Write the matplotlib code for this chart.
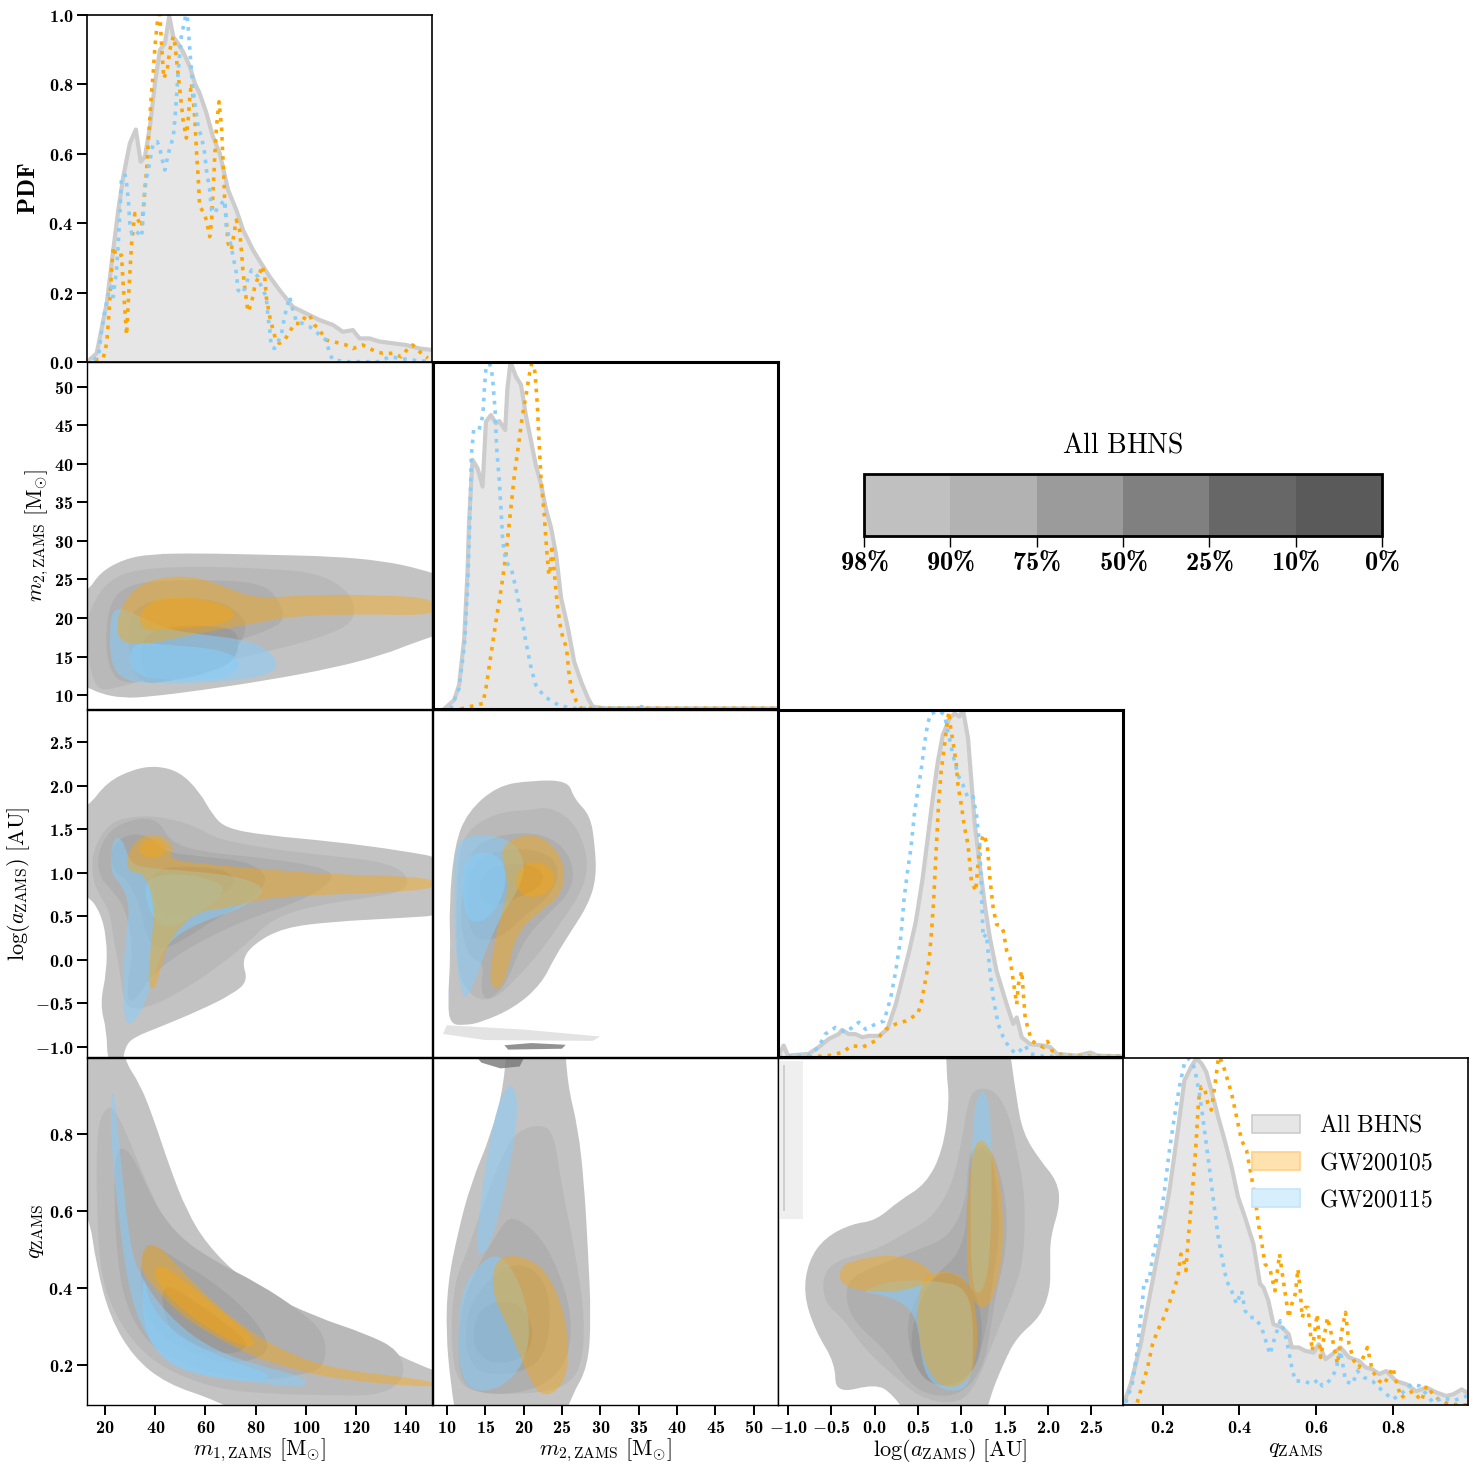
import matplotlib
matplotlib.use('Agg')
import matplotlib.pyplot as plt
from matplotlib.colors import ListedColormap, BoundaryNorm
from matplotlib.ticker import FixedLocator, FuncFormatter, NullLocator
import matplotlib.colorbar as mcolorbar
from matplotlib.patches import Patch, PathPatch, Polygon
from matplotlib.path import Path

plt.rcParams['font.family'] = ['DejaVu Serif']
plt.rcParams['mathtext.fontset'] = 'custom'
plt.rcParams['mathtext.rm'] = 'cmr10'
plt.rcParams['mathtext.it'] = 'cmmi10'
plt.rcParams['mathtext.bf'] = 'cmb10'
plt.rcParams['mathtext.sf'] = 'cmss10'
plt.rcParams['mathtext.tt'] = 'cmtt10'
plt.rcParams['mathtext.cal'] = 'cmsy10'
plt.rcParams['mathtext.fallback'] = 'cm'

# ---------------- axis ranges / ticks ----------------
m1_lim = (12.85, 150.3)
m2_lim = (8.2, 53.2)
loga_lim = (-1.115, 2.87)
q_lim = (0.097, 0.997)
pdf_ticks = [0.0, 0.2, 0.4, 0.6, 0.8, 1.0]
m1_ticks = [20, 40, 60, 80, 100, 120, 140]
m2_ticks = [10, 15, 20, 25, 30, 35, 40, 45, 50]
loga_ticks = [-1.0, -0.5, 0.0, 0.5, 1.0, 1.5, 2.0, 2.5]
q_ticks = [0.2, 0.4, 0.6, 0.8]
cbar_labels = ['98%', '90%', '75%', '50%', '25%', '10%', '0%']
legend_labels = ['All BHNS', 'GW200105', 'GW200115']

# ---------------- 1D PDFs ----------------
m1_all = [12.85, 16.7, 20.7, 23.3, 25.3, 27.3, 29.9, 32.3, 34.2, 35.9, 37.9, 39.9, 41.85, 43.85, 45.6, 47.2,
          49.1, 51.1, 53.8, 55.8, 57.7, 60.4, 63.0, 65.7, 69.0, 72.3, 75.0, 78.9, 82.2, 85.55, 89.5, 94.8,
          100.1, 105.4, 110.7, 114.7, 118.7, 121.3, 125.3, 129.3, 134.6, 139.9, 145.2, 149.8]
pdf_m1_all = [0, 0.025, 0.169, 0.323, 0.438, 0.534, 0.630, 0.670, 0.577, 0.592, 0.678, 0.803, 0.899, 0.918,
              0.997, 0.937, 0.918, 0.894, 0.851, 0.803, 0.774, 0.717, 0.649, 0.601, 0.496, 0.438, 0.380, 0.323,
              0.284, 0.246, 0.207, 0.159, 0.140, 0.121, 0.107, 0.087, 0.092, 0.068, 0.068, 0.059, 0.054, 0.049,
              0.039, 0.035]
m1_105 = [16.0, 19.3, 20.7, 21.7, 22.65, 23.3, 24.6, 26.6, 27.3, 28.6, 29.7, 30.6, 31.9, 33.2, 34.6, 35.2,
          35.9, 36.6, 37.2, 37.9, 38.5, 39.2, 39.9, 40.8, 41.6, 42.5, 43.4, 44.8, 45.8, 47.2, 47.8, 48.5, 49.8,
          51.1, 52.4, 53.1, 53.8, 54.4, 55.1, 55.8, 56.4, 57.1, 57.7, 59.1, 60.4, 61.7, 62.4, 63.0, 63.7, 64.4,
          65.4, 66.4, 66.8, 67.3, 67.7, 68.3, 69.0, 70.3, 72.3, 73.6, 74.3, 74.9, 75.6, 76.3, 76.9, 78.3, 79.6,
          81.6, 82.6, 83.6, 84.2, 85.6, 86.9, 88.2, 89.5, 91.5, 93.5, 95.5, 98.1, 100.1, 101.4, 103.4, 105.4,
          108.1, 110.7, 113.4, 116.0, 118.7, 120.6, 122.6, 125.3, 127.9, 130.6, 134.6, 137.9, 141.2, 142.5,
          145.2, 148.5]
pdf_m1_105 = [0.006, 0.010, 0.054, 0.150, 0.265, 0.332, 0.304, 0.308, 0.217, 0.078, 0.227, 0.342, 0.428, 0.409,
              0.390, 0.438, 0.496, 0.553, 0.630, 0.707, 0.774, 0.832, 0.909, 0.976, 1.03, 0.918, 0.817, 0.841,
              0.899, 0.938, 0.918, 0.870, 0.784, 0.697, 0.645, 0.697, 0.765, 0.803, 0.765, 0.697, 0.611, 0.534,
              0.448, 0.433, 0.409, 0.361, 0.400, 0.486, 0.592, 0.678, 0.750, 0.678, 0.611, 0.534, 0.457, 0.409,
              0.342, 0.323, 0.409, 0.380, 0.323, 0.265, 0.217, 0.179, 0.145, 0.169, 0.217, 0.256, 0.277, 0.246,
              0.188, 0.131, 0.092, 0.059, 0.054, 0.063, 0.087, 0.111, 0.111, 0.135, 0.135, 0.107, 0.092, 0.063,
              0.059, 0.054, 0.049, 0.039, 0.044, 0.049, 0.039, 0.030, 0.025, 0.025, 0.015, 0.044, 0.049, 0.030,
              0.011]
m1_115 = [15.4, 17.4, 18.7, 20.0, 21.3, 22.65, 23.3, 24.6, 25.3, 26.0, 26.6, 28.0, 28.6, 29.3, 29.9, 30.6,
          31.9, 33.2, 34.6, 35.2, 35.9, 37.2, 39.2, 40.8, 41.85, 42.5, 43.8, 44.8, 45.8, 47.2, 47.8, 48.5, 49.1,
          49.8, 50.5, 51.8, 52.45, 53.1, 53.8, 54.4, 55.1, 56.2, 57.1, 58.4, 59.7, 60.4, 61.7, 62.4, 63.7, 65.0,
          66.4, 67.7, 68.3, 69.7, 71.0, 72.3, 73.0, 74.9, 76.3, 78.3, 79.6, 80.9, 82.2, 84.2, 84.9, 85.6, 86.2,
          87.5, 88.9, 90.2, 91.5, 93.5, 94.8, 96.2, 98.8, 101.4, 104.1, 106.1, 108.1, 109.4, 110.7, 116.0, 129.3,
          133.2, 137.2, 141.2, 149.1]
pdf_m1_115 = [0.006, 0.015, 0.092, 0.150, 0.193, 0.217, 0.188, 0.265, 0.342, 0.438, 0.534, 0.539, 0.515, 0.467,
              0.400, 0.371, 0.380, 0.371, 0.361, 0.419, 0.505, 0.553, 0.630, 0.635, 0.616, 0.592, 0.553, 0.587,
              0.616, 0.649, 0.697, 0.765, 0.832, 0.890, 0.947, 0.981, 1.03, 0.966, 0.899, 0.841, 0.784, 0.726,
              0.678, 0.649, 0.601, 0.553, 0.496, 0.438, 0.428, 0.448, 0.457, 0.467, 0.390, 0.352, 0.304, 0.256,
              0.207, 0.198, 0.227, 0.265, 0.256, 0.246, 0.217, 0.188, 0.131, 0.092, 0.044, 0.039, 0.059, 0.078,
              0.131, 0.188, 0.150, 0.116, 0.111, 0.102, 0.087, 0.073, 0.063, 0.025, 0.006, 0.001, 0.001, 0.015,
              0.011, 0.006, 0.001]

m2_all = [9.65, 10.96, 11.6, 12.27, 12.7, 12.9, 13.14, 13.35, 14.0, 14.66, 15.1, 15.75, 16.4, 16.84, 17.6, 17.9,
          18.3, 19.0, 19.67, 20.3, 21.0, 21.6, 22.3, 22.9, 23.6, 24.25, 24.9, 25.8, 26.6, 27.5, 28.4, 29.0, 30.6,
          53.2]
pdf_m2_all = [0.0, 0.026, 0.069, 0.204, 0.396, 0.540, 0.636, 0.718, 0.694, 0.641, 0.828, 0.847, 0.823, 0.830,
              0.804, 0.924, 1.0, 0.958, 0.934, 0.847, 0.770, 0.703, 0.646, 0.578, 0.521, 0.444, 0.319, 0.232,
              0.136, 0.079, 0.031, 0.007, 0.002, 0.002]
m2_105 = [11.8, 14.7, 15.1, 15.75, 16.4, 17.1, 17.7, 18.3, 18.8, 19.4, 19.8, 20.4, 20.75, 21.2, 21.5, 21.8,
          22.0, 22.3, 22.7, 23.0, 23.3, 23.5, 23.7, 24.0, 24.4, 24.9, 25.6, 25.9, 26.2, 26.9, 27.5, 53.2]
pdf_m2_105 = [0.0, 0.016, 0.060, 0.156, 0.252, 0.348, 0.444, 0.569, 0.674, 0.770, 0.838, 0.915, 0.963, 1.01,
              0.967, 0.876, 0.780, 0.655, 0.559, 0.463, 0.386, 0.405, 0.473, 0.396, 0.300, 0.223, 0.175, 0.108,
              0.060, 0.021, 0.002, 0.002]
m2_115 = [10.5, 11.6, 12.3, 12.7, 13.0, 13.2, 13.5, 14.2, 14.7, 14.9, 15.1, 15.3, 15.8, 16.0, 16.3, 16.5,
          16.85, 17.1, 17.3, 17.7, 18.4, 19.0, 19.7, 20.3, 21.0, 21.6, 22.7, 24.5, 26.2, 35.0, 35.4, 35.8, 53.2]
pdf_m2_115 = [0.0, 0.060, 0.184, 0.348, 0.540, 0.732, 0.804, 0.804, 0.847, 0.924, 0.982, 1.01, 0.982, 0.943,
              0.857, 0.751, 0.655, 0.559, 0.482, 0.425, 0.405, 0.348, 0.271, 0.194, 0.117, 0.069, 0.036, 0.012,
              0.002, 0.002, 0.007, 0.0, 0.0]

loga_all = [-1.11, -1.05, -1.0, -0.763, -0.647, -0.53, -0.415, -0.376, -0.298, -0.221, -0.143, -0.066, 0.05,
            0.147, 0.244, 0.322, 0.4, 0.477, 0.555, 0.613, 0.671, 0.73, 0.787, 0.865, 0.923, 0.98, 1.02, 1.078,
            1.117, 1.156, 1.213, 1.271, 1.33, 1.407, 1.524, 1.6, 1.64, 1.698, 1.795, 1.95, 2.03, 2.105, 2.34,
            2.49, 2.57, 2.87]
pdf_loga_all = [0.004, 0.033, 0.004, 0.009, 0.028, 0.052, 0.066, 0.078, 0.066, 0.066, 0.057, 0.061, 0.061, 0.080,
                0.152, 0.229, 0.306, 0.392, 0.516, 0.631, 0.746, 0.852, 0.928, 0.976, 0.990, 0.981, 1.0, 0.919,
                0.794, 0.670, 0.555, 0.44, 0.344, 0.248, 0.152, 0.095, 0.114, 0.057, 0.037, 0.033, 0.028, 0.009,
                0.004, 0.013, 0.004, 0.002]
loga_105 = [-0.763, -0.53, -0.376, -0.26, -0.143, 0.012, 0.128, 0.244, 0.36, 0.497, 0.535, 0.593, 0.632, 0.651,
            0.679, 0.698, 0.718, 0.737, 0.768, 0.807, 0.834, 0.857, 0.873, 0.904, 0.943, 0.962, 1.0, 1.039, 1.078,
            1.117, 1.167, 1.213, 1.26, 1.3, 1.33, 1.368, 1.407, 1.454, 1.485, 1.524, 1.562, 1.6, 1.64, 1.66,
            1.698, 1.717, 1.737, 1.776, 1.814, 1.872, 1.95, 1.996, 2.047, 2.18, 2.87]
pdf_loga_105 = [0.0, 0.004, 0.013, 0.033, 0.028, 0.047, 0.080, 0.095, 0.104, 0.124, 0.152, 0.229, 0.286, 0.344,
                0.44, 0.535, 0.631, 0.727, 0.823, 0.899, 0.957, 0.995, 0.957, 0.909, 0.842, 0.784, 0.727, 0.66,
                0.612, 0.507, 0.478, 0.612, 0.641, 0.612, 0.516, 0.43, 0.382, 0.378, 0.363, 0.306, 0.286, 0.219,
                0.152, 0.21, 0.248, 0.181, 0.114, 0.076, 0.047, 0.037, 0.028, 0.045, 0.018, 0.004, 0.002]
loga_115 = [-1.11, -0.763, -0.647, -0.57, -0.453, -0.337, -0.26, -0.182, -0.105, 0.012, 0.109, 0.186, 0.244,
            0.302, 0.341, 0.38, 0.419, 0.458, 0.497, 0.535, 0.574, 0.613, 0.651, 0.748, 0.807, 0.846, 0.904,
            0.962, 1.02, 1.078, 1.136, 1.175, 1.213, 1.233, 1.252, 1.291, 1.33, 1.368, 1.426, 1.485, 1.562, 1.64,
            1.737, 1.795, 1.95, 2.87]
pdf_loga_115 = [0.0, 0.004, 0.028, 0.066, 0.085, 0.071, 0.085, 0.1, 0.08, 0.095, 0.104, 0.171, 0.248, 0.344,
                0.459, 0.535, 0.602, 0.698, 0.765, 0.823, 0.899, 0.962, 0.99, 0.997, 0.986, 0.938, 0.871, 0.813,
                0.784, 0.746, 0.75, 0.698, 0.612, 0.478, 0.344, 0.354, 0.248, 0.171, 0.095, 0.057, 0.023, 0.009,
                0.033, 0.009, 0.002, 0.002]

q_all = [0.098, 0.117, 0.143, 0.169, 0.196, 0.218, 0.24, 0.257, 0.275, 0.288, 0.301, 0.314, 0.327, 0.345, 0.362,
         0.38, 0.397, 0.415, 0.437, 0.454, 0.463, 0.476, 0.489, 0.511, 0.529, 0.537, 0.555, 0.572, 0.594, 0.607,
         0.625, 0.642, 0.664, 0.686, 0.712, 0.73, 0.747, 0.765, 0.783, 0.809, 0.835, 0.861, 0.888, 0.914, 0.94,
         0.958, 0.98, 1.0]
pdf_q_all = [0.002, 0.06, 0.175, 0.329, 0.484, 0.618, 0.792, 0.935, 0.975, 0.999, 0.985, 0.96, 0.908, 0.83,
             0.763, 0.686, 0.599, 0.541, 0.464, 0.349, 0.339, 0.3, 0.233, 0.224, 0.204, 0.166, 0.166, 0.156,
             0.151, 0.175, 0.132, 0.146, 0.166, 0.137, 0.127, 0.108, 0.103, 0.089, 0.098, 0.069, 0.06, 0.04,
             0.05, 0.036, 0.026, 0.031, 0.045, 0.031]
q_105 = [0.134, 0.148, 0.161, 0.174, 0.187, 0.2, 0.213, 0.226, 0.24, 0.248, 0.257, 0.261, 0.266, 0.275, 0.283,
         0.289, 0.294, 0.301, 0.31, 0.318, 0.327, 0.336, 0.345, 0.349, 0.362, 0.38, 0.393, 0.406, 0.419, 0.432,
         0.441, 0.45, 0.459, 0.467, 0.481, 0.493, 0.505, 0.511, 0.52, 0.529, 0.537, 0.546, 0.553, 0.559, 0.564,
         0.572, 0.579, 0.59, 0.603, 0.612, 0.63, 0.642, 0.656, 0.669, 0.677, 0.686, 0.699, 0.712, 0.734, 0.747,
         0.765, 0.778, 0.8, 0.809, 0.822, 0.835, 0.853, 0.875, 0.888, 0.905, 0.923, 0.949, 1.0]
pdf_q_105 = [0.007, 0.06, 0.108, 0.175, 0.214, 0.243, 0.281, 0.32, 0.368, 0.435, 0.407, 0.387, 0.464, 0.58,
             0.686, 0.782, 0.879, 0.917, 0.912, 0.869, 0.85, 0.917, 0.994, 1.004, 0.965, 0.898, 0.83, 0.763,
             0.734, 0.657, 0.599, 0.522, 0.464, 0.407, 0.387, 0.329, 0.435, 0.387, 0.32, 0.252, 0.291, 0.32,
             0.392, 0.329, 0.252, 0.281, 0.281, 0.156, 0.262, 0.137, 0.252, 0.195, 0.118, 0.224, 0.267, 0.175,
             0.127, 0.108, 0.166, 0.098, 0.069, 0.06, 0.108, 0.069, 0.021, 0.031, 0.04, 0.012, 0.055, 0.031,
             0.012, 0.002, 0.0]
q_115 = [0.104, 0.121, 0.134, 0.148, 0.152, 0.165, 0.174, 0.187, 0.204, 0.218, 0.231, 0.244, 0.257, 0.266,
         0.279, 0.288, 0.296, 0.305, 0.314, 0.323, 0.336, 0.345, 0.358, 0.367, 0.38, 0.393, 0.406, 0.415, 0.428,
         0.441, 0.458, 0.472, 0.48, 0.493, 0.507, 0.52, 0.529, 0.537, 0.546, 0.568, 0.59, 0.607, 0.616, 0.634,
         0.651, 0.664, 0.677, 0.695, 0.708, 0.726, 0.747, 0.774, 0.8, 0.826, 0.848, 0.87, 0.888, 0.905, 0.931,
         0.958, 0.993]
pdf_q_115 = [0.007, 0.06, 0.156, 0.3, 0.358, 0.358, 0.426, 0.484, 0.609, 0.734, 0.83, 0.917, 0.985, 0.999,
             0.985, 0.946, 0.898, 0.83, 0.753, 0.676, 0.561, 0.484, 0.407, 0.358, 0.329, 0.291, 0.329, 0.272,
             0.252, 0.252, 0.224, 0.175, 0.146, 0.195, 0.243, 0.204, 0.156, 0.108, 0.069, 0.069, 0.06, 0.074,
             0.055, 0.069, 0.098, 0.156, 0.069, 0.06, 0.098, 0.079, 0.069, 0.04, 0.016, 0.036, 0.06, 0.055, 0.031,
             0.007, 0.021, 0.012, 0.026]

# ---------------- 2D credible regions (outer -> inner), data units ----------------
m1m2_98 = [(5, 23.3), (12.85, 23.3), (18.0, 25.9), (27.3, 27.6), (37.9, 28.3), (57.7, 28.4), (84.2, 28.2),
           (110.7, 28.0), (130.6, 27.4), (145.2, 26.4), (158, 25.0), (158, 18.4), (143.8, 16.9), (130.6, 15.2),
           (110.7, 13.5), (84.2, 11.9), (57.7, 10.6), (37.9, 9.8), (27.3, 9.6), (18.0, 10.2), (12.85, 11.1),
           (5, 11.1)]
m1m2_90 = [(15.4, 22.1), (22.0, 25.1), (33.9, 26.4), (57.7, 26.7), (84.2, 26.4), (104.1, 25.9), (116.0, 23.8),
           (120.0, 21.2), (117.3, 19.0), (104.1, 17.3), (84.2, 15.6), (57.7, 13.7), (37.9, 12.2), (24.6, 10.9),
           (16.7, 10.6), (13.4, 14.3), (12.9, 19.5)]
m1m2_75 = [(22.0, 22.1), (28.6, 24.2), (41.9, 24.9), (71.0, 24.9), (84.2, 24.2), (89.5, 22.1), (91.5, 19.9),
           (86.9, 18.6), (71.0, 16.9), (57.7, 14.3), (37.9, 11.9), (27.3, 11.5), (22.0, 13.0), (20.0, 17.3)]
m1m2_50 = [(29.3, 19.5), (33.9, 21.8), (44.5, 22.5), (64.4, 22.5), (75.0, 20.3), (76.3, 18.6), (73.6, 16.5),
           (64.4, 13.0), (44.5, 11.7), (33.9, 11.5), (29.7, 14.3)]
m1m2_25 = [(35.2, 17.7), (44.5, 19.0), (64.4, 19.0), (73.6, 18.2), (72.3, 14.3), (57.7, 12.6), (37.9, 11.7),
           (33.9, 14.3)]
m1m2_105 = [(24, 19.5), (30, 23.5), (40, 25.2), (55, 25.5), (68, 24.0), (80, 22.5), (100, 23.0), (130, 23.0),
            (152, 22.5), (152, 20.3), (125, 20.5), (95, 20.3), (78, 19.2), (65, 18.5), (50, 17.5), (35, 16.5),
            (26, 16.8)]
m1m2_105_core = [(33, 20), (38, 22.3), (50, 22.8), (62, 22.3), (72, 21), (70, 19.5), (58, 18.8), (45, 18.5),
                 (36, 18.3)]
m1m2_115 = [(22, 14), (22, 20), (25, 21.5), (32, 20.5), (45, 18.5), (60, 17.8), (75, 17.2), (85, 16.0),
            (90, 13.5), (80, 12.2), (60, 11.6), (40, 11.5), (28, 11.8)]
m1m2_115_core = [(30, 12.5), (30, 17), (45, 16.5), (65, 16), (75, 14.5), (70, 12.2), (50, 11.8)]

m1a_98 = [(5, 1.74), (12.85, 1.74), (20.7, 2.04), (31.3, 2.19), (40.5, 2.23), (49.8, 2.16), (57.7, 1.93),
          (62.9, 1.66), (68.3, 1.51), (84.2, 1.43), (110.7, 1.36), (137.2, 1.26), (158, 1.15), (158, 0.52),
          (137.2, 0.48), (110.7, 0.44), (90.9, 0.37), (79.0, 0.18), (74.4, -0.01), (77.0, -0.24), (71.0, -0.39),
          (57.7, -0.58), (41.9, -0.77), (31.3, -0.89), (28, -1.0), (27, -1.2), (21, -1.2), (20.7, -0.81),
          (18.0, -0.51), (20.7, -0.13), (20.7, 0.25), (18.0, 0.56), (12.85, 0.75), (5, 0.75)]
m1a_90 = [(15.4, 1.28), (22.0, 1.59), (33.9, 1.66), (47.2, 1.62), (57.7, 1.51), (64.4, 1.39), (84.2, 1.28),
          (110.7, 1.19), (130.6, 1.13), (140.9, 0.98), (139.6, 0.79), (123.9, 0.71), (104.1, 0.63), (86.9, 0.48),
          (76.3, 0.18), (64.4, -0.09), (52.5, -0.32), (40.5, -0.51), (31.3, -0.58), (27.3, -0.47), (26.0, -0.13),
          (23.3, 0.25), (22.0, 0.56), (16.7, 0.79), (14.7, 1.01)]
m1a_75 = [(16.7, 1.2), (22.0, 1.51), (33.9, 1.64), (41.9, 1.59), (45.8, 1.36), (57.7, 1.24), (84.2, 1.17),
          (109.4, 1.05), (110.7, 0.9), (97.5, 0.67), (77.6, 0.48), (60.4, 0.25), (47.2, 0.03), (37.9, -0.2),
          (33.9, -0.39), (29.9, -0.51), (28.6, -0.32), (31.3, 0.1), (28.6, 0.56), (23.3, 0.79), (18.0, 0.94)]
m1a_50 = [(22.0, 1.28), (28.6, 1.45), (37.9, 1.43), (43.2, 1.24), (57.7, 1.19), (77.6, 1.13), (85.5, 0.94),
          (79.0, 0.71), (64.4, 0.48), (52.5, 0.25), (41.9, 0.10), (36.6, 0.25), (33.9, 0.63), (28.6, 0.94),
          (23.3, 1.01)]
m1a_25 = [(38, 1.05), (55, 1.08), (70, 1.02), (72, 0.85), (60, 0.62), (48, 0.45), (40, 0.6)]
m1a_105 = [(28, 1.15), (33, 1.42), (42, 1.45), (48, 1.3), (45, 1.15), (60, 1.1), (80, 1.05), (110, 0.98),
           (152, 0.95), (152, 0.8), (110, 0.75), (85, 0.72), (70, 0.6), (55, 0.55), (45, 0.2), (42, -0.1),
           (40, -0.35), (37, -0.3), (38, 0.1), (40, 0.6), (36, 1.0), (30, 1.0)]
m1a_105_core = [(33, 1.22), (35, 1.38), (42, 1.40), (45, 1.25), (40, 1.15)]
m1a_115 = [(22, 1.0), (23, 1.4), (27, 1.4), (30, 1.1), (38, 1.05), (55, 1.02), (75, 0.95), (85, 0.8), (75, 0.6),
           (55, 0.4), (45, 0.2), (40, -0.1), (35, -0.6), (28, -0.8), (27, -0.3), (28, 0.2), (30, 0.6), (27, 0.85)]
m1a_115_core = [(35, 0.9), (45, 1.0), (60, 0.95), (70, 0.8), (55, 0.5), (45, 0.35), (38, 0.5)]

m1q_98 = [(5, 1.08), (27.3, 1.08), (27.3, 0.995), (33.9, 0.93), (39.2, 0.843), (45.8, 0.713), (52.5, 0.601),
          (60.4, 0.515), (73.6, 0.428), (90.9, 0.359), (110.7, 0.299), (130.6, 0.247), (143.8, 0.204),
          (158, 0.17), (158, 0.04), (84.2, 0.04), (64.4, 0.109), (44.5, 0.152), (31.3, 0.221), (22.0, 0.325),
          (16.7, 0.454), (13.4, 0.601), (5, 0.62)]
m1q_90 = [(18.0, 0.843), (22.0, 0.877), (26.0, 0.84), (31.3, 0.757), (37.9, 0.653), (44.5, 0.567), (52.5, 0.506),
          (64.4, 0.454), (81.6, 0.394), (104.1, 0.325), (123.9, 0.282), (137.2, 0.239), (139.8, 0.17),
          (130.6, 0.122), (110.7, 0.122), (84.2, 0.126), (64.4, 0.139), (44.5, 0.187), (31.3, 0.256),
          (22.0, 0.359), (18.0, 0.454), (16.7, 0.627), (16.7, 0.774)]
m1q_75 = [(24.0, 0.757), (28.6, 0.765), (33.9, 0.705), (40.5, 0.61), (49.8, 0.532), (63.0, 0.472), (81.6, 0.411),
          (97.5, 0.342), (107.8, 0.282), (107.8, 0.195), (97.5, 0.174), (84.2, 0.161), (64.4, 0.174),
          (44.5, 0.221), (33.9, 0.282), (27.3, 0.377), (24.6, 0.498), (23.7, 0.627)]
m1q_50 = [(35.2, 0.506), (39.2, 0.515), (47.2, 0.48), (64.4, 0.411), (79.0, 0.325), (85.5, 0.256), (82.9, 0.221),
          (71.0, 0.204), (57.7, 0.221), (44.5, 0.264), (36.4, 0.325), (33.9, 0.411)]
m1q_25 = [(42, 0.42), (55, 0.37), (70, 0.3), (78, 0.25), (70, 0.225), (55, 0.25), (44, 0.3)]
m1q_105 = [(35, 0.5), (40, 0.52), (50, 0.45), (62, 0.37), (75, 0.3), (90, 0.24), (110, 0.19), (152, 0.16),
           (152, 0.14), (110, 0.165), (90, 0.2), (80, 0.22), (65, 0.27), (50, 0.33), (40, 0.4), (34, 0.45)]
m1q_105_core = [(40, 0.47), (52, 0.42), (66, 0.34), (80, 0.27), (78, 0.24), (62, 0.29), (48, 0.36), (40, 0.42)]
m1q_115 = [(23, 0.95), (26, 0.75), (30, 0.5), (35, 0.42), (45, 0.33), (60, 0.25), (80, 0.2), (100, 0.17),
           (100, 0.14), (80, 0.155), (60, 0.17), (45, 0.2), (36, 0.28), (30, 0.38), (26, 0.55), (22, 0.8)]
m1q_115_core = [(35, 0.45), (38, 0.35), (50, 0.27), (70, 0.21), (85, 0.18), (85, 0.16), (60, 0.17), (42, 0.22),
                (35, 0.3)]

m2a_98 = [(12.3, -0.75), (10.5, -0.74), (10.1, -0.51), (10.5, 0.06), (10.3, 0.63), (11.0, 1.32), (12.7, 1.70),
          (16.6, 2.0), (21.0, 2.06), (25.8, 2.06), (26.6, 1.85), (28.7, 1.66), (29.3, 1.32), (29.5, 0.94),
          (28.4, 0.63), (26.2, 0.33), (24.0, 0.02), (22.3, -0.28), (18.8, -0.55), (14.4, -0.72)]
m2a_90 = [(12.3, 1.47), (16.6, 1.70), (21.0, 1.72), (23.2, 1.76), (26.2, 1.62), (28.0, 1.32), (28.4, 1.01),
          (27.1, 0.71), (24.9, 0.44), (22.3, 0.1), (19.2, -0.2), (16.6, -0.43), (14.4, -0.47), (12.7, -0.36),
          (11.4, -0.13), (11.2, 0.44), (11.4, 1.09)]
m2a_75 = [(13.0, 1.28), (16.6, 1.43), (21.0, 1.47), (24.6, 1.36), (26.6, 1.09), (26.2, 0.79), (23.6, 0.56),
          (20.1, 0.25), (17.9, -0.24), (16.6, -0.39), (14.9, -0.47), (14.4, -0.28), (14.9, -0.05), (13.1, 0.02),
          (12.0, 0.25), (11.8, 0.71)]
m2a_50 = [(13.6, 1.13), (16.6, 1.26), (21.0, 1.28), (24.0, 1.17), (24.7, 0.94), (22.7, 0.67), (19.7, 0.48),
          (17.1, 0.25), (13.6, 0.21), (12.5, 0.56), (12.7, 0.9)]
m2a_25 = [(15, 1.05), (19, 1.12), (22.5, 1.05), (22.5, 0.85), (19, 0.7), (15.5, 0.6), (14, 0.8)]
m2a_105 = [(17, 1.3), (20, 1.45), (23, 1.4), (25.5, 1.1), (25, 0.75), (22, 0.55), (19, 0.3), (18, -0.1),
           (17, -0.35), (15.5, -0.3), (16, 0.1), (17, 0.5), (18, 0.8), (17.5, 1.1)]
m2a_105_core = [(19, 1.0), (21, 1.15), (24, 1.05), (24, 0.8), (21, 0.7), (19, 0.8)]
m2a_115 = [(11, 1.3), (13, 1.45), (18, 1.4), (20, 1.2), (20, 0.9), (17, 0.5), (15, 0.1), (13.5, -0.3),
           (12, -0.5), (11, 0.2), (11, 0.8)]
m2a_115_core = [(12, 1.1), (14, 1.25), (17, 1.2), (18, 0.9), (16, 0.5), (13, 0.4), (12, 0.7)]
m2a_tail_light = [(10, -0.75), (20, -0.8), (30, -0.88), (29, -0.93), (15, -0.92), (9.5, -0.85)]
m2a_tail_dark = [(17.5, -0.98), (21, -0.955), (25.5, -0.975), (25, -1.02), (18, -1.03)]

m2q_98 = [(17.9, 1.08), (25.3, 1.08), (25.7, 0.93), (27.1, 0.817), (27.9, 0.67), (28.4, 0.498), (28.8, 0.325),
          (28.4, 0.195), (26.2, 0.118), (24.9, 0.04), (11.4, 0.04), (10.5, 0.152), (9.9, 0.282), (10.1, 0.411),
          (11.4, 0.541), (13.1, 0.67), (15.8, 0.8), (17.5, 0.93)]
m2q_90 = [(19.2, 0.808), (22.3, 0.826), (24.0, 0.8), (24.9, 0.67), (26.7, 0.498), (28.0, 0.325), (27.6, 0.195),
          (25.4, 0.143), (21.0, 0.126), (14.5, 0.126), (11.4, 0.152), (10.5, 0.256), (10.9, 0.411), (12.7, 0.498),
          (14.9, 0.627), (17.5, 0.757)]
m2q_75 = [(17.6, 0.575), (19.0, 0.584), (22.4, 0.532), (24.9, 0.429), (26.3, 0.325), (25.9, 0.221), (23.2, 0.152),
          (18.9, 0.126), (14.5, 0.126), (12.0, 0.152), (11.4, 0.238), (11.8, 0.351), (14.1, 0.463), (16.3, 0.532)]
m2q_50 = [(18.5, 0.463), (21.0, 0.454), (22.9, 0.411), (23.6, 0.325), (22.8, 0.23), (20.5, 0.187), (16.6, 0.174),
          (13.6, 0.187), (12.3, 0.256), (12.8, 0.351), (15.3, 0.42)]
m2q_25 = [(15, 0.36), (19, 0.37), (21.5, 0.3), (20.5, 0.22), (16, 0.2), (13.5, 0.24), (13.5, 0.31)]
m2q_105 = [(16, 0.47), (19, 0.49), (23, 0.45), (25.5, 0.33), (26, 0.2), (24.5, 0.13), (22, 0.12), (20, 0.2),
           (18, 0.3), (16, 0.38)]
m2q_115 = [(12, 0.4), (14.5, 0.47), (17, 0.49), (19.5, 0.42), (21, 0.3), (20, 0.2), (17, 0.14), (13, 0.13),
           (11.5, 0.2), (11.5, 0.3)]
m2q_115_streak = [(13.5, 0.5), (16, 0.85), (18.5, 0.95), (19.5, 0.85), (17, 0.6), (15, 0.48)]
m2q_tail_dark = [(14.5, 0.985), (17, 0.97), (19.5, 0.975), (20, 0.995), (14, 0.997)]

aq_98 = [(0.826, 1.08), (1.524, 1.08), (1.64, 0.886), (1.717, 0.8), (1.911, 0.731), (2.105, 0.679), (2.144, 0.618),
         (2.027, 0.532), (2.027, 0.463), (2.027, 0.394), (1.911, 0.325), (1.64, 0.273), (1.485, 0.204),
         (1.33, 0.118), (1.252, 0.04), (0.477, 0.04), (0.206, 0.126), (0.012, 0.152), (-0.453, 0.126),
         (-0.453, 0.204), (-0.686, 0.29), (-0.822, 0.385), (-0.763, 0.472), (-0.57, 0.532), (-0.26, 0.567),
         (0.012, 0.575), (0.283, 0.627), (0.593, 0.67), (0.787, 0.757), (0.865, 0.886), (0.826, 0.964)]
aq_90 = [(1.175, 0.921), (1.407, 0.912), (1.562, 0.843), (1.64, 0.757), (1.717, 0.67), (1.737, 0.584),
         (1.717, 0.48), (1.64, 0.411), (1.485, 0.325), (1.33, 0.239), (1.175, 0.152), (0.981, 0.1), (0.593, 0.109),
         (0.322, 0.152), (-0.105, 0.239), (-0.376, 0.325), (-0.57, 0.359), (-0.608, 0.428), (-0.453, 0.472),
         (0.012, 0.498), (0.399, 0.549), (0.671, 0.584), (0.903, 0.67), (1.02, 0.8), (1.078, 0.886)]
aq_75 = [(1.136, 0.765), (1.291, 0.774), (1.407, 0.731), (1.524, 0.627), (1.524, 0.498), (1.407, 0.394),
         (1.33, 0.282), (1.252, 0.195), (1.02, 0.126), (0.671, 0.118), (0.399, 0.152), (0.128, 0.239),
         (-0.221, 0.308), (-0.337, 0.368), (-0.298, 0.428), (0.089, 0.463), (0.477, 0.498), (0.865, 0.532),
         (1.059, 0.627), (1.078, 0.731)]
aq_50 = [(1.175, 0.765), (1.33, 0.757), (1.407, 0.67), (1.446, 0.541), (1.368, 0.428), (1.252, 0.239),
         (1.02, 0.152), (0.71, 0.143), (0.477, 0.195), (0.36, 0.282), (0.438, 0.368), (0.671, 0.428),
         (1.02, 0.498), (1.078, 0.627), (1.098, 0.731)]
aq_25 = [(0.787, 0.446), (1.02, 0.428), (1.213, 0.368), (1.252, 0.256), (1.136, 0.178), (0.826, 0.143),
         (0.555, 0.161), (0.399, 0.239), (0.477, 0.342), (0.632, 0.411)]
aq_105_band = [(-0.4, 0.45), (-0.3, 0.47), (0.2, 0.49), (0.6, 0.46), (0.7, 0.42), (0.3, 0.39), (-0.1, 0.39),
               (-0.4, 0.41)]
aq_105 = [(0.5, 0.42), (0.8, 0.45), (1.1, 0.42), (1.2, 0.3), (1.15, 0.18), (0.95, 0.14), (0.7, 0.15), (0.5, 0.25)]
aq_105_vert = [(1.05, 0.45), (1.1, 0.75), (1.25, 0.8), (1.45, 0.7), (1.5, 0.5), (1.35, 0.35), (1.15, 0.35)]
aq_115 = [(-0.2, 0.39), (0.2, 0.38), (0.5, 0.33), (0.55, 0.18), (0.8, 0.13), (1.1, 0.14), (1.15, 0.25),
          (1.1, 0.4), (0.7, 0.42), (0.2, 0.42)]
aq_115_vert = [(1.1, 0.4), (1.12, 0.85), (1.25, 0.93), (1.35, 0.85), (1.35, 0.5), (1.25, 0.38)]
aq_tail_light = [(-1.09, 0.58), (-0.83, 0.58), (-0.83, 0.99), (-1.09, 0.99)]
aq_tail_dark = [(-1.06, 0.6), (-1.03, 0.6), (-1.03, 0.98), (-1.06, 0.98)]

# ---------------- style ----------------
GRAY_LEVELS = ['#c3c3c3', '#b9b9b9', '#afafaf', '#a5a5a5', '#9b9b9b']
CBAR_COLORS = ['#c0c0c0', '#b2b2b2', '#9b9b9b', '#808080', '#676767', '#5a5a5a']
ORANGE = '#ffa500'
BLUE = '#87cefa'

W, H = 1475, 1464
fig = plt.figure(figsize=(W / 100, H / 100), dpi=100)
lefts = [87, 433, 778, 1123]
tops = [15, 362, 710, 1058]
PW, PH = 345.3, 347.0


def rect(i, j):
    return [lefts[j] / W, 1 - (tops[i] + PH) / H, PW / W, PH / H]


def fmt(dec):
    return FuncFormatter(lambda v, p: r'$\mathbf{%s}$' % (('%.' + str(dec) + 'f') % v))


def smooth_region(poly, **kw):
    """Closed outline drawn as a smooth quadratic-Bezier path through the read vertices."""
    n = len(poly)
    mids = [((poly[k][0] + poly[(k + 1) % n][0]) / 2, (poly[k][1] + poly[(k + 1) % n][1]) / 2) for k in range(n)]
    verts = [mids[-1]]
    codes = [Path.MOVETO]
    for k in range(n):
        verts += [poly[k], mids[k]]
        codes += [Path.CURVE3, Path.CURVE3]
    verts.append(mids[-1])
    codes.append(Path.CLOSEPOLY)
    return PathPatch(Path(verts, codes), **kw)


limits = [m1_lim, m2_lim, loga_lim, q_lim]
ticks = [m1_ticks, m2_ticks, loga_ticks, q_ticks]
decs = [0, 0, 1, 1]
labels = [r'$m_{1,\mathrm{ZAMS}}\ [\mathrm{M}_{\odot}]$', r'$m_{2,\mathrm{ZAMS}}\ [\mathrm{M}_{\odot}]$',
          r'$\log(a_{\mathrm{ZAMS}})\ [\mathrm{AU}]$', r'$q_{\mathrm{ZAMS}}$']

diag_data = [
    (m1_all, pdf_m1_all, m1_105, pdf_m1_105, m1_115, pdf_m1_115),
    (m2_all, pdf_m2_all, m2_105, pdf_m2_105, m2_115, pdf_m2_115),
    (loga_all, pdf_loga_all, loga_105, pdf_loga_105, loga_115, pdf_loga_115),
    (q_all, pdf_q_all, q_105, pdf_q_105, q_115, pdf_q_115),
]

panels = {
    (1, 0): ([m1m2_98, m1m2_90, m1m2_75, m1m2_50, m1m2_25], [m1m2_105, m1m2_105_core],
             [m1m2_115, m1m2_115_core], []),
    (2, 0): ([m1a_98, m1a_90, m1a_75, m1a_50, m1a_25], [m1a_105, m1a_105_core], [m1a_115, m1a_115_core], []),
    (3, 0): ([m1q_98, m1q_90, m1q_75, m1q_50, m1q_25], [m1q_105, m1q_105_core], [m1q_115, m1q_115_core], []),
    (2, 1): ([m2a_98, m2a_90, m2a_75, m2a_50, m2a_25], [m2a_105, m2a_105_core], [m2a_115, m2a_115_core],
             [(m2a_tail_light, '#dcdcdc'), (m2a_tail_dark, '#777777')]),
    (3, 1): ([m2q_98, m2q_90, m2q_75, m2q_50, m2q_25], [m2q_105], [m2q_115, m2q_115_streak],
             [(m2q_tail_dark, '#777777')]),
    (3, 2): ([aq_98, aq_90, aq_75, aq_50, aq_25], [aq_105_band, aq_105, aq_105_vert], [aq_115, aq_115_vert],
             [(aq_tail_light, '#ececec'), (aq_tail_dark, '#c8c8c8')]),
}

axes = {}
for i in range(4):
    for j in range(i + 1):
        ax = fig.add_axes(rect(i, j))
        axes[(i, j)] = ax
        ax.set_xlim(*limits[j])
        if i == j:
            xg, yg, xo, yo, xb, yb = diag_data[i]
            ax.fill_between(xg, yg, 0, color='#e6e6e6', lw=0, zorder=1)
            ax.plot(xg, yg, color='#cccccc', lw=3, zorder=2, solid_joinstyle='round')
            ax.plot(xo, yo, color=ORANGE, lw=2.6, ls=':', zorder=3)
            ax.plot(xb, yb, color=BLUE, lw=2.6, ls=':', zorder=3)
            ax.set_ylim(0, 1)
            lw = 2.2 if i in (1, 2) else 1.2
        else:
            ax.set_ylim(*limits[i])
            lev, ors, bls, extra = panels[(i, j)]
            for poly, c in zip(lev, GRAY_LEVELS):
                ax.add_patch(smooth_region(poly, fc=c, ec='none', zorder=1))
            for poly, c in extra:
                ax.add_patch(Polygon(poly, closed=True, fc=c, ec='none', alpha=0.8, zorder=1.5))
            for poly in bls:
                ax.add_patch(smooth_region(poly, fc=BLUE, ec='none', alpha=0.55, zorder=2))
            for poly in ors:
                ax.add_patch(smooth_region(poly, fc=ORANGE, ec='none', alpha=0.4, zorder=2.5))
            lw = 1.0
        for s in ax.spines.values():
            s.set_linewidth(lw)
            s.set_zorder(5)
        ax.tick_params(direction='out', length=7, width=1.4, labelsize=13, pad=3)
        if i == 3:
            ax.xaxis.set_major_locator(FixedLocator(ticks[j]))
            ax.xaxis.set_major_formatter(fmt(decs[j]))
            ax.set_xlabel(labels[j], fontsize=16, labelpad=0)
        else:
            ax.xaxis.set_major_locator(NullLocator())
        if j == 0:
            if i == 0:
                ax.yaxis.set_major_locator(FixedLocator(pdf_ticks))
                ax.yaxis.set_major_formatter(fmt(1))
                ax.set_ylabel(r'$\mathbf{PDF}$', fontsize=18, labelpad=6)
            else:
                ax.yaxis.set_major_locator(FixedLocator(ticks[i]))
                ax.yaxis.set_major_formatter(fmt(decs[i]))
                ax.set_ylabel(labels[i], fontsize=16, labelpad=2)
        else:
            ax.yaxis.set_major_locator(NullLocator())
        ax.xaxis.set_minor_locator(NullLocator())
        ax.yaxis.set_minor_locator(NullLocator())

# legend in q panel
handles = [Patch(fc='#e6e6e6', ec='#cccccc', lw=1.2),
           Patch(fc='#ffe2ad', ec='#ffd08a', lw=1.2),
           Patch(fc='#d7eefc', ec='#c2e5fb', lw=1.2)]
axq = axes[(3, 3)]
axq.legend(handles, [r'$\mathrm{%s}$' % s.replace(' ', r'\ ') for s in legend_labels],
           loc='upper right', bbox_to_anchor=(0.96, 0.90), frameon=False, fontsize=17,
           handlelength=2.05, handleheight=0.8, handletextpad=0.8, labelspacing=0.6)

# colorbar
cax = fig.add_axes([864 / W, 1 - 536 / H, 518 / W, 62 / H])
cmap = ListedColormap(CBAR_COLORS)
bounds = list(range(len(CBAR_COLORS) + 1))
norm = BoundaryNorm(bounds, cmap.N)
cb = mcolorbar.ColorbarBase(cax, cmap=cmap, norm=norm, orientation='horizontal', ticks=bounds)
cb.set_ticklabels([r'$\mathbf{%s}$' % s.replace('%', r'\%') for s in cbar_labels])
cb.outline.set_linewidth(2)
cax.tick_params(direction='out', length=8, width=1, labelsize=19, pad=2)
cax.xaxis.set_minor_locator(NullLocator())
fig.text(1123 / W, 1 - 445 / H, r'$\mathrm{All\ BHNS}$', ha='center', va='center', fontsize=20)

fig.savefig('out.png', dpi=100)
